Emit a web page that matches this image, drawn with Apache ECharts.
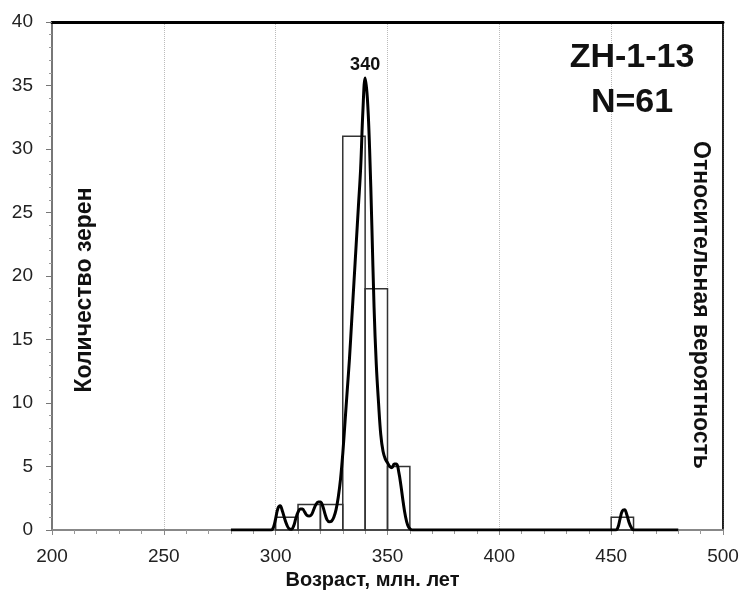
<!DOCTYPE html>
<html lang="ru">
<head>
<meta charset="UTF-8">
<title>ZH-1-13</title>
<script src="https://cdn.jsdelivr.net/npm/echarts@6/dist/echarts.min.js"></script>
<style>
  body { margin: 0; background: #fff; }
  #chart { width: 741px; height: 590px; }
</style>
</head>
<body>
<div id="chart"></div>
<script>
// histogram bins (Ma) and grain counts
const binStarts = [300, 310, 320, 330, 340, 350, 450];
const binWidth = 10;
const binCounts = [1, 2, 2, 31, 19, 5, 1];

// probability density curve, scaled to count axis
const curveAges = [280, 298, 299, 300, 301, 302, 303, 304, 305, 306, 307, 308, 309, 310, 311, 312, 313, 314, 315, 316, 317, 318, 319, 320,
  321, 322, 323, 324, 325, 326, 327, 328, 329, 330, 331, 332, 333, 334, 335, 336, 337, 338, 339, 340,
  341, 342, 343, 344, 345, 346, 347, 348, 349, 350, 351, 352, 353, 354, 355, 356, 357, 358, 359, 360, 361,
  452, 453, 454, 455, 456, 457, 458, 459, 460, 480];
const curveValues = [0, 0, 0.2, 0.9, 1.7, 1.9, 1.5, 0.9, 0.4, 0.1, 0.05, 0.3, 0.9, 1.4, 1.65, 1.65, 1.4, 1.15, 1.1, 1.2, 1.6, 2.0, 2.2, 2.2,
  1.9, 1.3, 0.8, 0.65, 0.7, 1.0, 1.6, 2.6, 4.0, 6.0, 8.5, 11, 13.5, 16.5, 19.5, 22.5, 25.5, 28.5, 33, 35.6,
  34, 30, 24, 17.5, 13, 10, 7.5, 6.2, 5.6, 5.3, 5.0, 4.9, 5.2, 5.2, 4.6, 3.5, 2.2, 1.1, 0.4, 0.1, 0,
  0, 0.2, 0.9, 1.5, 1.6, 1.2, 0.6, 0.2, 0, 0];
const peakAge = 340;
const peakValue = 35.6;

const xTicks = [200, 250, 300, 350, 400, 450, 500];
const yTicks = [0, 5, 10, 15, 20, 25, 30, 35, 40];

const FONT = 'Liberation Sans, Arial, sans-serif';
const chart = echarts.init(document.getElementById('chart'));

const binData = binStarts.map((s, i) => [s, s + binWidth, binCounts[i]]);
const curveData = curveAges.map((a, i) => [a, curveValues[i]]);

chart.setOption({
  animation: false,
  title: {
    text: 'ZH-1-13\nN=61',
    left: 627,
    top: 30,
    textAlign: 'center',
    textStyle: { fontFamily: FONT, fontSize: 34, fontWeight: 'bold', color: '#111', lineHeight: 45 }
  },
  grid: {
    left: 52, right: 18, top: 22, bottom: 60,
    outerBoundsMode: 'none',
    show: true, borderColor: '#111', borderWidth: 1.5
  },
  xAxis: [{
    type: 'value',
    min: xTicks[0],
    max: xTicks[xTicks.length - 1],
    interval: 50,
    name: 'Возраст, млн. лет',
    nameLocation: 'middle',
    nameGap: 37,
    nameTextStyle: { fontFamily: FONT, fontSize: 20, fontWeight: 'bold', color: '#111', padding: [0, 30, 0, 0] },
    axisLine: { lineStyle: { color: '#888', width: 2 } },
    axisTick: { show: true, length: 5, lineStyle: { color: '#888' } },
    minorTick: { show: true, splitNumber: 5, length: 4, lineStyle: { color: '#999' } },
    axisLabel: { fontFamily: FONT, fontSize: 19, color: '#222', margin: 17 },
    splitLine: { show: true, lineStyle: { color: '#bbb', type: 'dotted', width: 1 } }
  }, {
    type: 'value',
    position: 'top',
    min: xTicks[0],
    max: xTicks[xTicks.length - 1],
    axisLine: { show: true, onZero: false, lineStyle: { color: '#000', width: 3 } },
    axisTick: { show: false },
    axisLabel: { show: false },
    splitLine: { show: false }
  }],
  yAxis: [{
    type: 'value',
    min: yTicks[0],
    max: yTicks[yTicks.length - 1],
    interval: 5,
    name: 'Количество зерен',
    nameLocation: 'middle',
    nameRotate: 90,
    nameGap: -44,
    nameTextStyle: { fontFamily: FONT, fontSize: 23, fontWeight: 'bold', color: '#111', padding: [0, 28, 0, 0] },
    axisLine: { show: true, lineStyle: { color: '#777', width: 2 } },
    axisTick: { show: true, length: 6, lineStyle: { color: '#777' } },
    minorTick: { show: true, splitNumber: 5, length: 3, lineStyle: { color: '#999' } },
    axisLabel: { fontFamily: FONT, fontSize: 19, color: '#222', margin: 19 },
    splitLine: { show: false }
  }, {
    type: 'value',
    position: 'right',
    min: 0,
    max: 40,
    name: 'Относительная вероятность',
    nameLocation: 'middle',
    nameRotate: -90,
    nameGap: -34,
    nameTextStyle: { fontFamily: FONT, fontSize: 23, fontWeight: 'bold', color: '#111', padding: [0, 0, 0, 58] },
    axisLine: { show: true, onZero: false, lineStyle: { color: '#111', width: 1.5 } },
    axisTick: { show: false },
    axisLabel: { show: false },
    splitLine: { show: false }
  }],
  series: [{
    type: 'custom',
    data: binData,
    renderItem: function (params, api) {
      const p0 = api.coord([api.value(0), 0]);
      const p1 = api.coord([api.value(1), api.value(2)]);
      return {
        type: 'rect',
        shape: { x: p0[0], y: p1[1], width: p1[0] - p0[0], height: p0[1] - p1[1] },
        style: { fill: 'rgba(255,255,255,0)', stroke: '#333', lineWidth: 1.5 }
      };
    },
    z: 2
  }, {
    type: 'line',
    data: curveData,
    smooth: 0.4,
    symbol: 'none',
    lineStyle: { color: '#000', width: 3 },
    markPoint: {
      symbol: 'circle',
      symbolSize: 1,
      itemStyle: { color: 'rgba(0,0,0,0)' },
      label: { show: true, position: 'top', distance: 3, formatter: String(peakAge), fontFamily: FONT, fontSize: 18, fontWeight: 'bold', color: '#111' },
      data: [{ coord: [peakAge, peakValue] }]
    },
    z: 3
  }]
});
</script>
</body>
</html>
